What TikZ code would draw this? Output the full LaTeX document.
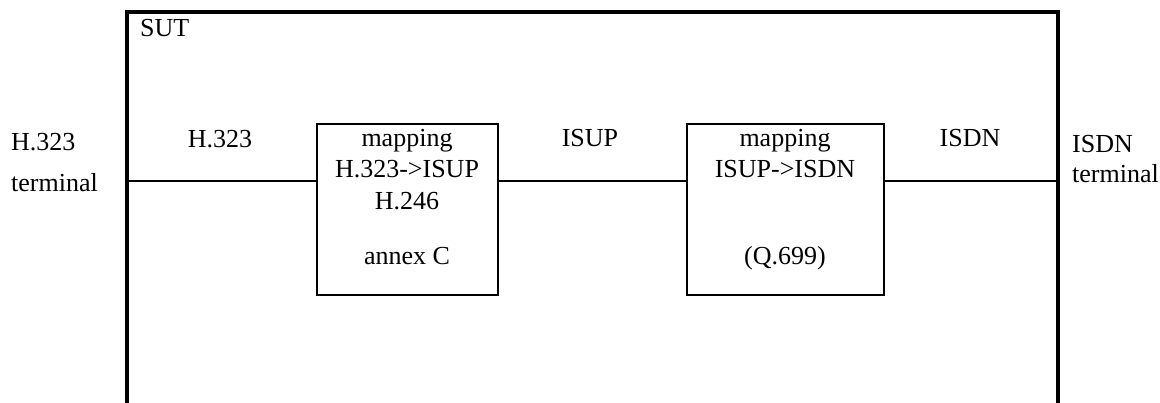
\documentclass[tikz,border=0pt]{standalone}
\usepackage{fontspec}
\setmainfont{Liberation Serif}
\begin{document}
\begin{tikzpicture}[x=1pt,y=-1pt,
  lbl/.style={inner sep=0pt,anchor=base,font=\fontsize{26}{30}\selectfont},
  lbll/.style={lbl,anchor=base west},
  mapbox/.style={draw,line width=2.6pt,minimum width=181pt,minimum height=171pt,inner sep=0pt},
  wire/.style={line width=2.4pt},
  frame/.style={line width=4.2pt}]
\useasboundingbox (0,0) rectangle (1160,403);

% system under test frame, open at the bottom
\coordinate (sutbl) at (127,410);
\coordinate (sutbr) at (1058,410);
\coordinate (suttl) at (127,12);
\coordinate (suttr) at (1058,12);
\draw[frame] (sutbl) -- (suttl) -- (suttr) -- (sutbr);
\node[lbll] (sut) at (140,37) {SUT};

% mapping blocks
\node[mapbox] (map1) at (407.5,209.5) {};
\node[mapbox,minimum width=197pt] (map2) at (785.5,209.5) {};

\node[lbl] (m1a) at (407,147) {mapping};
\node[lbl] (m1b) at (407,178) {H.323->ISUP};
\node[lbl] (m1c) at (407,210) {H.246};
\node[lbl] (m1d) at (407,265) {annex C};

\node[lbl] (m2a) at (785,147) {mapping};
\node[lbl] (m2b) at (785,178) {ISUP->ISDN};
\node[lbl] (m2c) at (785,265) {(Q.699)};

% signalling links
\coordinate (inL) at (127,181);
\coordinate (inR) at (1058,181);
\draw[wire] (inL) -- (map1.west |- inL);
\draw[wire] (map1.east |- inL) -- (map2.west |- inL);
\draw[wire] (map2.east |- inL) -- (inR);

\node[lbl] (h323) at (220,148) {H.323};
\node[lbl] (isup) at (590,147) {ISUP};
\node[lbl] (isdn) at (970,147) {ISDN};

% terminals outside the frame
\node[lbll] (tl1) at (11,151) {H.323};
\node[lbll] (tl2) at (11,192) {terminal};
\node[lbll] (tr1) at (1072,153) {ISDN};
\node[lbll] (tr2) at (1072,183) {terminal};
\end{tikzpicture}
\end{document}
